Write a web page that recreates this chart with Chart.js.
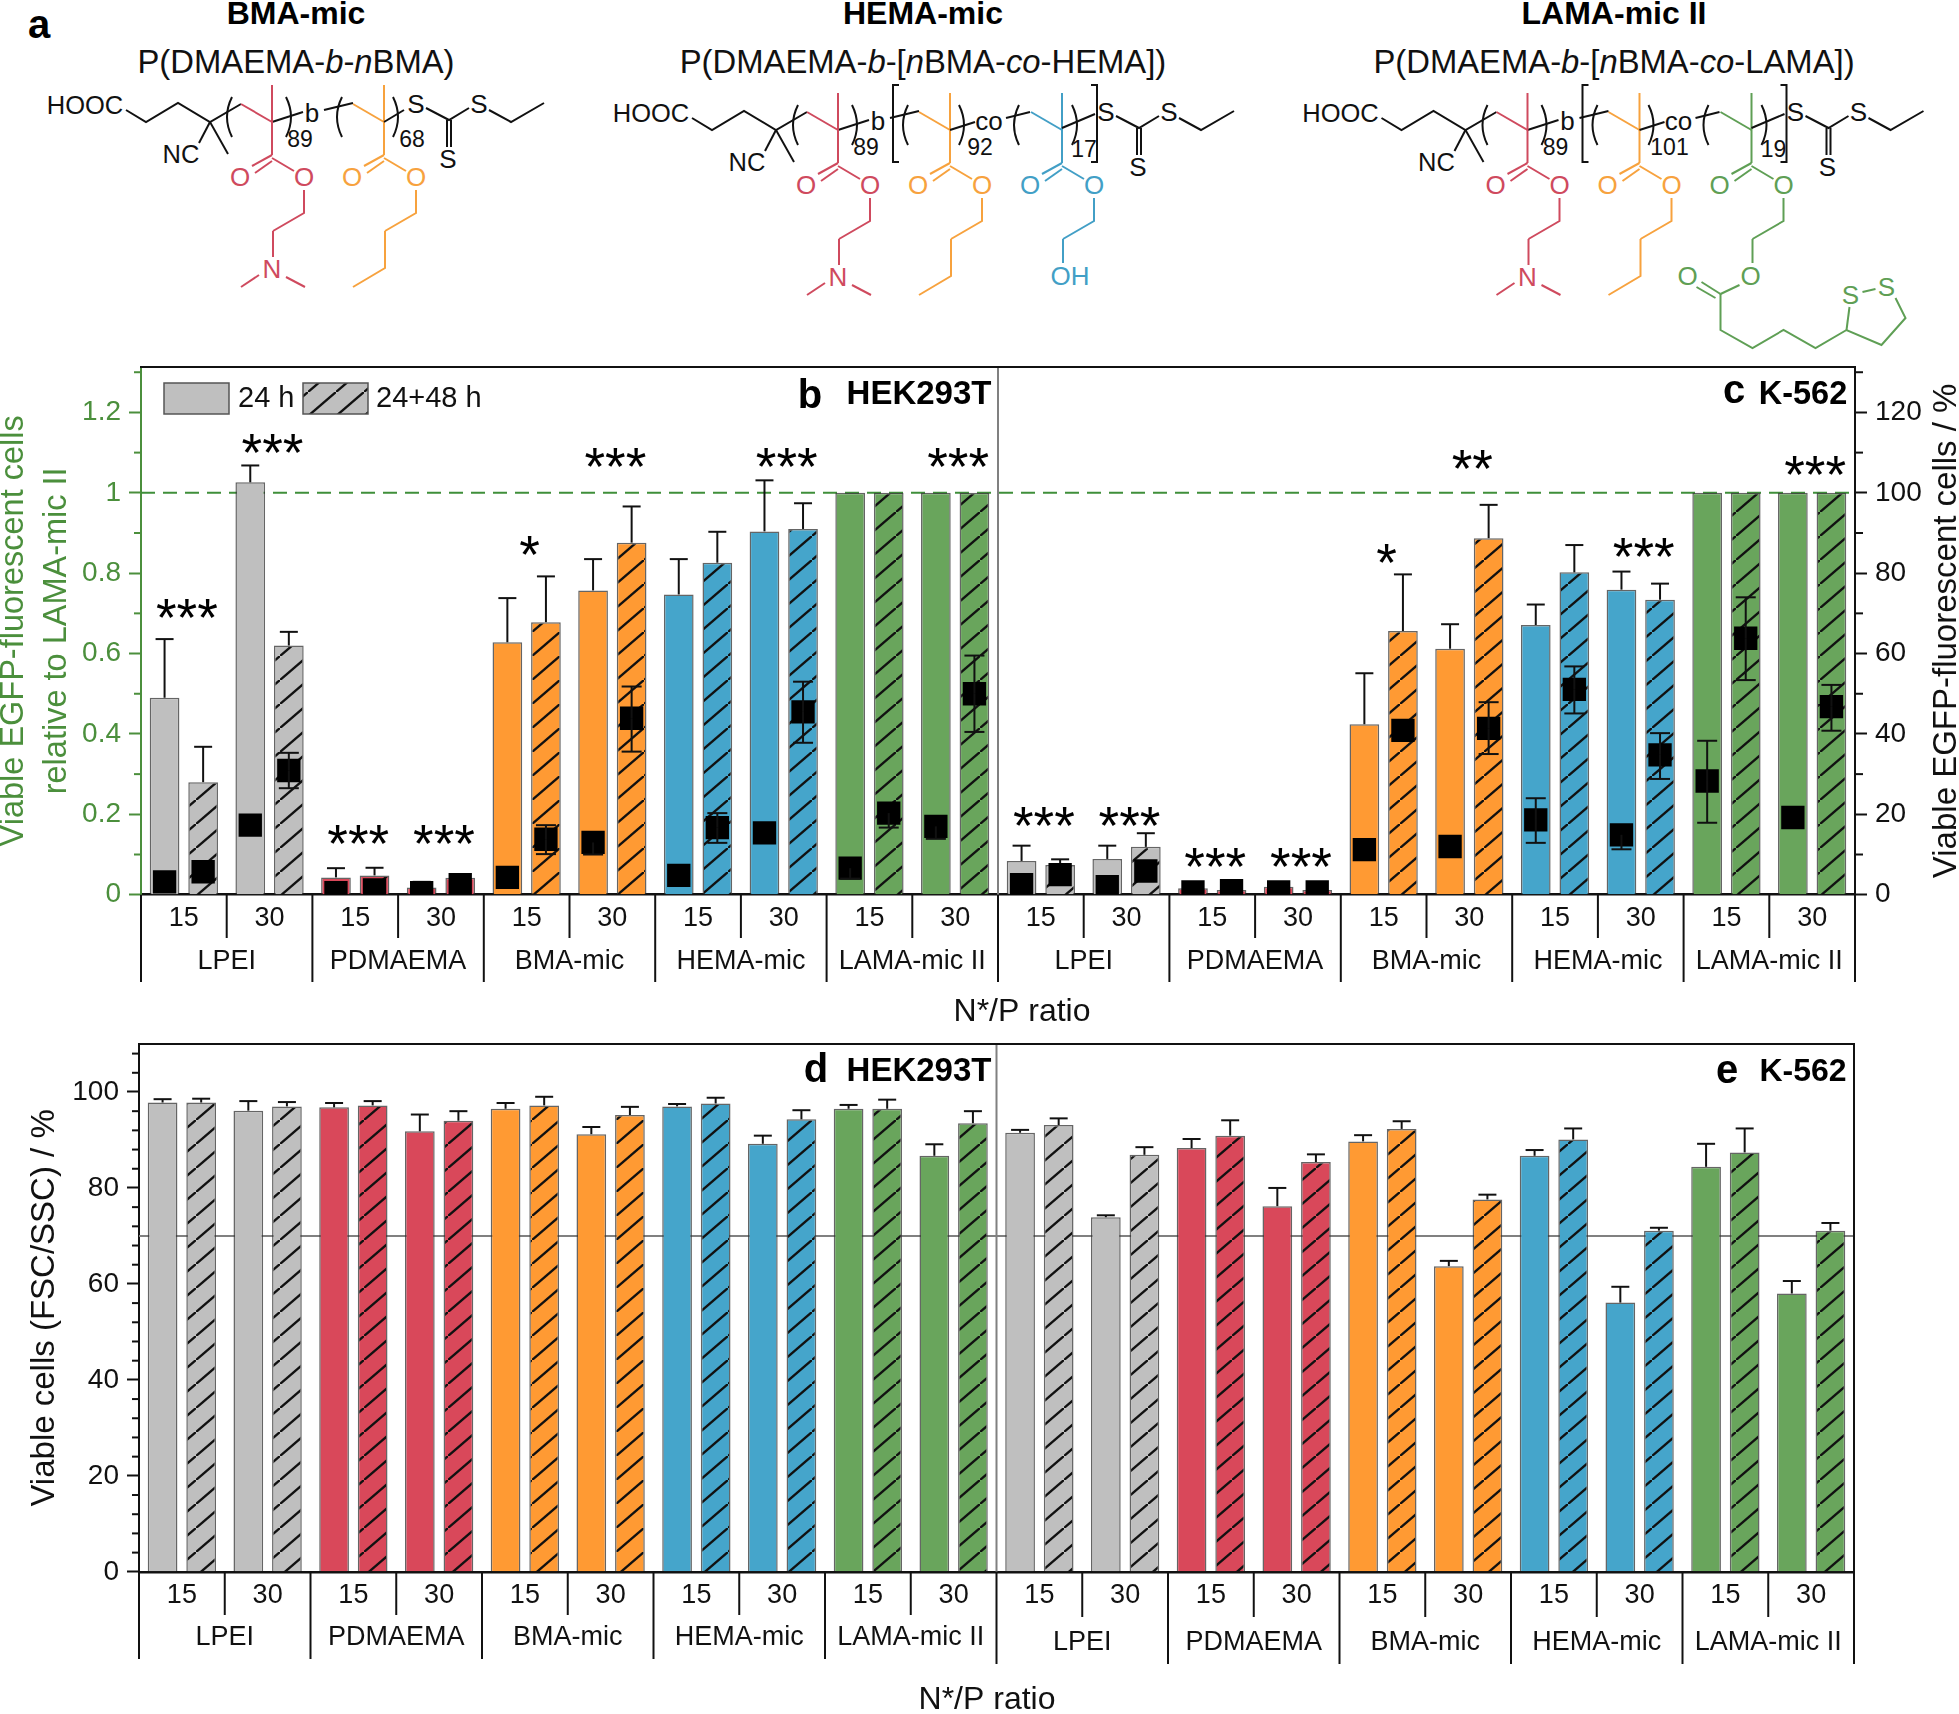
<!DOCTYPE html>
<html>
<head>
<meta charset="utf-8">
<title>Viable EGFP-fluorescent cells</title>
<script src="https://cdn.jsdelivr.net/npm/chart.js@4"></script>
<style>
html, body { margin: 0; background: #fff; }
svg, canvas { position: absolute; left: 0; }
</style>
</head>
<body>
<svg id="structures" width="1959" height="365" style="top:0"></svg>
<canvas id="chart_transfection" width="1959" height="710" style="top:320px"></canvas>
<canvas id="chart_viability" width="1959" height="714" style="top:1000px"></canvas>
<script>
// one category per N*/P ratio, left half HEK293T, right half K-562
const ratioLabels = ['15','30','15','30','15','30','15','30','15','30','15','30','15','30','15','30','15','30','15','30'];
const groupLabels = ['LPEI','PDMAEMA','BMA-mic','HEMA-mic','LAMA-mic II','LPEI','PDMAEMA','BMA-mic','HEMA-mic','LAMA-mic II'];

// panels b + c, bars, relative to LAMA-mic II
const transf24 = [.49,1.026,.043,.018,.628,.757,.747,.904,1,1, .084,.089,.016,.02,.424,.612,.671,.759,1,1];
const transf48 = [.28,.62,.048,.042,.678,.876,.826,.91,1,1, .074,.119,.012,.012,.656,.887,.802,.734,1,1];
const transf24Err = [.636,1.068,.066,.032,.738,.835,.835,1.031,null,null, .122,.122,null,null,.551,.673,.722,.804,null,null];
const transf48Err = [.368,.654,.067,.05,.792,.966,.903,.974,null,null, .088,.153,null,null,.797,.97,.87,.774,null,null];

// panels b + c, black squares, right axis in %
const pct24 = [3.2,17.3,.5,.5,4.3,13,4.8,15.4,6.6,17, 2.5,2,.7,.7,11.2,12,18.6,14.9,28.3,19.2];
const pct48 = [5.7,30.9,1.2,2.5,13.8,43.9,16.7,45.5,20.3,50, 5,5.9,1,.7,40.9,41.4,51.1,34.8,63.8,46.8];
const pct24Low = [null,null,null,null,null,10,null,null,4,13.9, null,null,null,null,null,null,12.9,11.3,17.9,null];
const pct24High = [null,null,null,null,null,null,null,null,null,null, null,null,null,null,null,null,24,null,38.3,null];
const pct48Low = [null,26.5,null,null,10.1,35.6,12.9,37.8,16.7,40.5, null,null,null,null,null,35,45.1,28.8,53.4,40.8];
const pct48High = [null,35.3,null,null,17.3,51.8,20.3,53,null,59.5, null,null,null,null,null,47.9,56.8,40.2,74,52.2];

// panels d + e
const viab24 = [97.8,96.1,96.8,91.8,96.5,91.2,97,89.2,96.5,86.7, 91.5,73.9,88.3,76.2,89.7,63.7,86.7,56.1,84.4,58];
const viab48 = [97.8,97,97.2,94,97.2,95.2,97.6,94.3,96.5,93.5, 93.1,86.9,90.9,85.4,92.3,77.6,90.1,71.1,87.4,71.1];
const viab24Err = [98.5,98.1,97.7,95.3,97.7,92.7,97.5,90.9,97.3,89.1, 92.1,74.3,90.2,80,91,64.8,87.9,59.4,89.2,60.6];
const viab48Err = [98.6,97.9,98.1,96,99,96.9,98.8,96.2,98.4,96, 94.5,88.5,94.1,87,93.9,78.6,92.4,71.7,92.4,72.7];

// significance marks: category, height on the left axis
const starCats = [0,1,2,3,4,5,7,9,10,11,12,13,14,15,17,19];
const starVals = [.703,1.113,.14,.14,.86,1.08,1.08,1.08,.187,.187,.084,.084,.84,1.073,.855,1.06];
const starMarks = ['***','***','***','***','*','***','***','***','***','***','***','***','*','**','***','***'];

const FONT = '"Liberation Sans", Arial, sans-serif';
const GREEN_TXT = '#4b8f3c';
const colGrey = '#bfbfbf', colRed = '#d9485a', colOrange = '#ff9a33', colBlue = '#45a5cb', colGreen = '#69a55c';
const groupColors = [colGrey, colRed, colOrange, colBlue, colGreen];
const catColor = i => groupColors[Math.floor(i / 2) % 5];

function hatch(color) {
    let tile = document.createElement('canvas');
    tile.width = 28;
    tile.height = 24;
    let c = tile.getContext('2d');
    c.fillStyle = color;
    c.fillRect(0, 0, 28, 24);
    c.strokeStyle = '#111';
    c.lineWidth = 2.4;
    c.beginPath();
    c.moveTo(-28, 48); c.lineTo(56, -24);
    c.stroke();
    return c.createPattern(tile, 'repeat');
}

function drawText(ctx, txt, x, y, font, color, rot, align) {
    ctx.save();
    ctx.translate(x, y);
    if (rot) ctx.rotate(rot);
    ctx.font = font;
    ctx.fillStyle = color || '#111';
    ctx.textAlign = align || 'center';
    ctx.textBaseline = 'middle';
    ctx.fillText(txt, 0, 0);
    ctx.restore();
}

function vline(ctx, x, y1, y2, color, w) {
    ctx.strokeStyle = color;
    ctx.lineWidth = w;
    ctx.beginPath();
    ctx.moveTo(x, y1);
    ctx.lineTo(x, y2);
    ctx.stroke();
}

function hline(ctx, x1, x2, y, color, w) {
    ctx.strokeStyle = color;
    ctx.lineWidth = w;
    ctx.beginPath();
    ctx.moveTo(x1, y);
    ctx.lineTo(x2, y);
    ctx.stroke();
}

function whisker(ctx, x, yScale, from, to, cap) {
    let y1 = yScale.getPixelForValue(from), y2 = yScale.getPixelForValue(to);
    vline(ctx, x, y1, y2, '#111', 2);
    hline(ctx, x - cap, x + cap, y2, '#111', 2);
}

function minorTicks(ctx, scale, step, every, x0, dir, len, color) {
    let n = Math.floor(scale.max / step + 1e-6);
    for (let i = 1; i <= n; i++) {
        if (i % every === 0) continue;
        let y = scale.getPixelForValue(i * step);
        hline(ctx, x0, x0 + dir * len, y, color, 2);
    }
}

// frame, two level x axis, whiskers and the panel texts. cfg positions are page pixels
function decoPlugin(cfg) {
    const T = cfg.top;
    return {
        id: 'deco',
        beforeDatasetsDraw(chart) {
            let ctx = chart.ctx, a = chart.chartArea, x = chart.scales.x, y = chart.scales.y;
            ctx.save();
            let mid = (x.getPixelForTick(9) + x.getPixelForTick(10)) / 2;
            if (cfg.refDashed) {
                ctx.setLineDash([14, 8]);
                hline(ctx, a.left, a.right, y.getPixelForValue(cfg.refValue), '#3f8f3a', 2);
                ctx.setLineDash([]);
            } else {
                hline(ctx, a.left, a.right, y.getPixelForValue(cfg.refValue), '#808080', 2);
            }
            vline(ctx, mid, a.top, a.bottom, '#808080', 2);
            [0, 1].forEach(di => {
                let meta = chart.getDatasetMeta(di), ds = chart.data.datasets[di];
                ds.errTop.forEach((e, i) => {
                    if (e === null) return;
                    whisker(ctx, meta.data[i].x, y, ds.data[i], e, 9);
                });
            });
            ctx.restore();
        },
        afterDatasetsDraw(chart) {
            let ctx = chart.ctx;
            ctx.save();
            if (chart.scales.yR) {
                [2, 3].forEach(di => {
                    let meta = chart.getDatasetMeta(di), ds = chart.data.datasets[di];
                    ds.data.forEach((p, i) => {
                        if (ds.errLow[i] !== null) whisker(ctx, meta.data[i].x, chart.scales.yR, p.y, ds.errLow[i], 10);
                        if (ds.errHigh[i] !== null) whisker(ctx, meta.data[i].x, chart.scales.yR, p.y, ds.errHigh[i], 10);
                    });
                });
            }
            ctx.restore();
        },
        afterDraw(chart) {
            let ctx = chart.ctx, a = chart.chartArea, x = chart.scales.x, y = chart.scales.y;
            ctx.save();
            hline(ctx, a.left - 1, a.right + 1, a.top, '#111', 2);
            if (!chart.scales.yR) vline(ctx, a.right, a.top, a.bottom, '#111', 2);
            minorTicks(ctx, y, cfg.minorStep, cfg.minorEvery, a.left, -1, 7, cfg.leftColor);
            if (chart.scales.yR) minorTicks(ctx, chart.scales.yR, 10, 2, a.right, 1, 8, '#111');

            // separators below the axis
            let half = (x.getPixelForTick(1) - x.getPixelForTick(0)) / 2;
            for (let i = 0; i <= 20; i++) {
                let sx = i < 20 ? x.getPixelForTick(i) - half : x.getPixelForTick(19) + half;
                let p = i < 10 ? 0 : 1;
                vline(ctx, sx, a.bottom, (i % 2 === 0 ? cfg.longSep[p] : cfg.shortSep[p]) - T, '#111', 2);
            }
            groupLabels.forEach((g, k) => {
                let gx = (x.getPixelForTick(k * 2) + x.getPixelForTick(k * 2 + 1)) / 2;
                drawText(ctx, g, gx, cfg.groupY[k < 5 ? 0 : 1] - T, '27px ' + FONT, '#111');
            });

            drawText(ctx, 'N*/P ratio', cfg.xTitle[0], cfg.xTitle[1] - T, '32px ' + FONT, '#111');
            cfg.texts.forEach(t => drawText(ctx, t[0], t[1], t[2] - T, 'bold ' + t[3] + 'px ' + FONT, '#000'));
            cfg.yTitles.forEach(t => drawText(ctx, t[0], t[1], (a.top + a.bottom) / 2, t[3] + 'px ' + FONT, t[4], -Math.PI / 2));

            if (cfg.stars) {
                starCats.forEach((c, i) => {
                    ctx.font = '53px ' + FONT;
                    ctx.fillStyle = '#000';
                    ctx.textAlign = 'center';
                    ctx.textBaseline = 'alphabetic';
                    ctx.fillText(starMarks[i], x.getPixelForTick(c) + 3, y.getPixelForValue(starVals[i]) + 24);
                });
                // legend
                ctx.lineWidth = 1.5;
                ctx.strokeStyle = '#555';
                ctx.fillStyle = colGrey;
                ctx.fillRect(164, 383 - T, 65, 31);
                ctx.strokeRect(164, 383 - T, 65, 31);
                drawText(ctx, '24 h', 238, 399 - T, '29px ' + FONT, '#111', 0, 'left');
                ctx.fillStyle = hatch(colGrey);
                ctx.fillRect(303, 383 - T, 65, 31);
                ctx.strokeRect(303, 383 - T, 65, 31);
                drawText(ctx, '24+48 h', 376, 399 - T, '29px ' + FONT, '#111', 0, 'left');
            }
            ctx.restore();
        }
    };
}

function barSet(label, data, err, hatched) {
    return {
        type: 'bar',
        label: label,
        data: data,
        errTop: err,
        order: 1,
        backgroundColor: data.map((v, i) => hatched ? hatch(catColor(i)) : catColor(i)),
        borderColor: 'rgba(50,50,50,.75)',
        borderWidth: 1.5,
        categoryPercentage: 0.9,
        barPercentage: 0.77
    };
}

// squares sit on the bar centres: fractional category positions, left unparsed
function squareSet(label, values, low, high, shift) {
    return {
        type: 'scatter',
        label: label,
        data: values.map((v, i) => ({ x: i + shift, y: v })),
        parsing: false,
        errLow: low,
        errHigh: high,
        yAxisID: 'yR',
        order: 0,
        clip: 0,
        pointStyle: 'rect',
        pointRadius: 16.5,
        pointBorderWidth: 0,
        backgroundColor: '#000'
    };
}

function yAxis(max, step, width, color, size, fmt) {
    return {
        min: 0,
        max: max,
        afterFit: s => { s.width = width; },
        border: { color: color, width: 2 },
        grid: { drawOnChartArea: false, tickLength: 12, tickWidth: 2, tickColor: color },
        ticks: { stepSize: step, includeBounds: false, color: color, padding: 8, font: { family: FONT, size: size }, callback: fmt }
    };
}

function xAxis(height) {
    return {
        type: 'category',
        afterFit: s => { s.height = height; },
        border: { color: '#111', width: 2.5 },
        grid: { display: false },
        ticks: { autoSkip: false, maxRotation: 0, padding: 0, color: '#111', font: { family: FONT, size: 27 } }
    };
}

new Chart(document.getElementById('chart_transfection'), {
    type: 'bar',
    data: {
        labels: ratioLabels,
        datasets: [
            barSet('24 h', transf24, transf24Err, false),
            barSet('24+48 h', transf48, transf48Err, true),
            squareSet('24 h %', pct24, pct24Low, pct24High, -0.225),
            squareSet('24+48 h %', pct48, pct48Low, pct48High, 0.225)
        ]
    },
    options: {
        responsive: false,
        animation: false,
        layout: { padding: { top: 47, left: 0, right: 0, bottom: 0 } },
        plugins: { legend: { display: false }, tooltip: { enabled: false } },
        scales: {
            x: xAxis(135.3),
            y: yAxis(1.313, 0.2, 141, GREEN_TXT, 28, v => String(+v.toFixed(1))),
            yR: Object.assign(yAxis(131.3, 20, 104, '#111', 28), { position: 'right' })
        }
    },
    plugins: [decoPlugin({
        top: 320, refValue: 1, refDashed: true, minorStep: 0.1, minorEvery: 2, leftColor: GREEN_TXT, stars: true,
        shortSep: [938, 938], longSep: [982, 982], groupY: [962, 962], xTitle: [1022, 1012],
        texts: [['b', 810, 397, 40], ['HEK293T', 919, 395, 33], ['c', 1734, 392, 40], ['K-562', 1803, 395, 32.5]],
        yTitles: [
            ['Viable EGFP-fluorescent cells', 14, 0, 32.5, GREEN_TXT],
            ['relative to LAMA-mic II', 57, 0, 32.5, GREEN_TXT],
            ['Viable EGFP-fluorescent cells / %', 1947, 0, 33, '#111']
        ]
    })]
});

new Chart(document.getElementById('chart_viability'), {
    type: 'bar',
    data: {
        labels: ratioLabels,
        datasets: [
            barSet('24 h', viab24, viab24Err, false),
            barSet('24+48 h', viab48, viab48Err, true)
        ]
    },
    options: {
        responsive: false,
        animation: false,
        layout: { padding: { top: 44, left: 0, right: 105, bottom: 0 } },
        plugins: { legend: { display: false }, tooltip: { enabled: false } },
        scales: {
            x: xAxis(142.2),
            y: yAxis(110, 20, 139, '#111', 28)
        }
    },
    plugins: [decoPlugin({
        top: 1000, refValue: 70, refDashed: false, minorStep: 4, minorEvery: 5, leftColor: '#111', stars: false,
        shortSep: [1615, 1617], longSep: [1659, 1664], groupY: [1638, 1643], xTitle: [987, 1700],
        texts: [['d', 816, 1071, 40], ['HEK293T', 919, 1072, 33], ['e', 1727, 1072, 40], ['K-562', 1803, 1072, 32]],
        yTitles: [['Viable cells (FSC/SSC) / %', 45, 0, 33, '#111']]
    })]
});

// panel a, the three block copolymer structures
const colUnitRed = '#cf4a5e', colUnitOrange = '#f7a23e', colUnitBlue = '#429fc6', colUnitGreen = '#5f9f55';
let svgParts = [];

function pl(color, pts, ox, oy) {
    let s = [];
    for (let i = 0; i < pts.length; i += 2) s.push((pts[i] + ox) + ',' + (pts[i + 1] + oy));
    svgParts.push('<polyline fill="none" stroke="' + color + '" stroke-width="2" points="' + s.join(' ') + '"/>');
}
function lab(txt, x, y, color, size) {
    svgParts.push('<text x="' + x + '" y="' + y + '" fill="' + color + '" font-size="' + size + '" font-family=\'' + FONT + '\' text-anchor="middle" dominant-baseline="central">' + txt + '</text>');
}
function paren(x, dir, ox, oy) {
    let x0 = x + ox, y0 = 97 + oy, y1 = 137 + oy;
    svgParts.push('<path fill="none" stroke="#111" stroke-width="2" d="M' + (x0 + 4 * dir) + ' ' + y0 + ' Q' + (x0 - 6 * dir) + ' ' + (y0 + 20) + ' ' + (x0 + 4 * dir) + ' ' + y1 + '"/>');
}
function unit(cx, color, kind, ox, oy) {
    pl(color, [cx - 31, 104, cx, 122], ox, oy);
    pl(color, [cx, 85, cx, 155], ox, oy);
    pl(color, [cx, 155, cx - 20, 166], ox, oy);
    pl(color, [cx - 17, 173, cx, 161], ox, oy);
    pl(color, [cx, 158, cx + 22, 171], ox, oy);
    lab('O', cx - 32 + ox, 177 + oy, color, 26);
    lab('O', cx + 32 + ox, 177 + oy, color, 26);
    pl(color, [cx + 32, 190, cx + 32, 213, cx + 1, 231], ox, oy);
    if (kind === 'amine') {
        pl(color, [cx + 1, 231, cx + 1, 257], ox, oy);
        lab('N', cx + ox, 269 + oy, color, 26);
        pl(color, [cx - 13, 275, cx - 31, 287], ox, oy);
        pl(color, [cx + 14, 277, cx + 33, 287], ox, oy);
    } else if (kind === 'butyl') {
        pl(color, [cx + 1, 231, cx + 1, 268, cx - 31, 287], ox, oy);
    } else if (kind === 'oh') {
        pl(color, [cx + 1, 231, cx + 1, 255], ox, oy);
        lab('OH', cx + 8 + ox, 268 + oy, color, 26);
    } else {
        pl(color, [cx + 1, 231, cx + 1, 255], ox, oy);
        lab('O', 495 + ox, 268 + oy, color, 26);
        pl(color, [484, 277, 465, 286], ox, oy);
        lab('O', 432 + ox, 268 + oy, color, 26);
        pl(color, [465, 286, 446, 274], ox, oy);
        pl(color, [460, 290, 441, 279], ox, oy);
        pl(color, [465, 286, 465, 322, 497, 340, 528, 322, 560, 340, 591, 322, 626, 337, 650, 310, 640, 290], ox, oy);
        lab('S', 631 + ox, 279 + oy, color, 26);
        lab('S', 595 + ox, 287 + oy, color, 26);
        pl(color, [607, 284, 620, 281], ox, oy);
        pl(color, [594, 299, 591, 322], ox, oy);
    }
}
function head(ox, oy) {
    lab('HOOC', 85 + ox, 105 + oy, '#111', 25.5);
    pl('#111', [126, 110, 146, 122, 178, 103, 210, 122, 241, 104], ox, oy);
    pl('#111', [210, 122, 228, 154], ox, oy);
    pl('#111', [210, 122, 199, 143], ox, oy);
    lab('NC', 181 + ox, 154 + oy, '#111', 25.5);
    paren(228, 1, ox, oy);
    pl('#111', [272, 122, 303, 112], ox, oy);
    paren(290, -1, ox, oy);
    lab('89', 300 + ox, 139 + oy, '#111', 23);
    lab('b', 312 + ox, 113 + oy, '#111', 26);
    pl('#111', [324, 110, 353, 103], ox, oy);
    paren(338, 1, ox, oy);
    paren(397, -1, ox, oy);
}
function tail(shift, ox, oy) {
    lab('S', 416 + shift + ox, 104 + oy, '#111', 26);
    pl('#111', [426 + shift, 108, 449 + shift, 120, 469 + shift, 108], ox, oy);
    lab('S', 479 + shift + ox, 104 + oy, '#111', 26);
    pl('#111', [489 + shift, 110, 511 + shift, 122, 544 + shift, 103], ox, oy);
    pl('#111', [447 + shift, 120, 447 + shift, 147], ox, oy);
    pl('#111', [451 + shift, 120, 451 + shift, 147], ox, oy);
    lab('S', 448 + shift + ox, 159 + oy, '#111', 26);
}
function titles(name, parts, cx) {
    svgParts.push('<text x="' + cx + '" y="13" font-size="32" font-weight="bold" fill="#000" font-family=\'' + FONT + '\' text-anchor="middle" dominant-baseline="central">' + name + '</text>');
    let spans = parts.map(p => '<tspan' + (p[1] ? ' font-style="italic"' : '') + '>' + p[0] + '</tspan>').join('');
    svgParts.push('<text x="' + cx + '" y="61" font-size="32.8" fill="#111" font-family=\'' + FONT + '\' text-anchor="middle" dominant-baseline="central">' + spans + '</text>');
}
function copolymer(thirdColor, kind, n2, n3, ox, oy) {
    pl('#111', [384, 122, 409, 114], ox, oy);
    lab('co', 423 + ox, 113 + oy, '#111', 26);
    pl('#111', [440, 110, 464, 104], ox, oy);
    paren(449, 1, ox, oy);
    unit(496, thirdColor, kind, ox, oy);
    pl('#111', [496, 120, 529, 106], ox, oy);
    paren(510, -1, ox, oy);
    pl('#111', [333, 77, 327, 77, 327, 154, 333, 154], ox, oy);
    pl('#111', [525, 77, 531, 77, 531, 154, 525, 154], ox, oy);
    lab(n2, 414 + ox, 139 + oy, '#111', 23);
    lab(n3, 518 + ox, 141 + oy, '#111', 23);
}

lab('a', 39, 24, '#000', 40);
svgParts[svgParts.length - 1] = svgParts[svgParts.length - 1].replace('<text ', '<text font-weight="bold" ');

titles('BMA-mic', [['P(DMAEMA-', 0], ['b', 1], ['-', 0], ['n', 1], ['BMA)', 0]], 296);
head(0, 0);
unit(272, colUnitRed, 'amine', 0, 0);
unit(384, colUnitOrange, 'butyl', 0, 0);
pl('#111', [384, 122, 404, 110], 0, 0);
lab('68', 412, 139, '#111', 23);
tail(0, 0, 0);

titles('HEMA-mic', [['P(DMAEMA-', 0], ['b', 1], ['-[', 0], ['n', 1], ['BMA-', 0], ['co', 1], ['-HEMA])', 0]], 923);
head(566, 8);
unit(272, colUnitRed, 'amine', 566, 8);
unit(384, colUnitOrange, 'butyl', 566, 8);
copolymer(colUnitBlue, 'oh', '92', '17', 566, 8);
tail(124, 566, 8);

titles('LAMA-mic II', [['P(DMAEMA-', 0], ['b', 1], ['-[', 0], ['n', 1], ['BMA-', 0], ['co', 1], ['-LAMA])', 0]], 1614);
head(1255.5, 8);
unit(272, colUnitRed, 'amine', 1255.5, 8);
unit(384, colUnitOrange, 'butyl', 1255.5, 8);
copolymer(colUnitGreen, 'lipoic', '101', '19', 1255.5, 8);
tail(124, 1255.5, 8);

document.getElementById('structures').innerHTML = svgParts.join('');
</script>
</body>
</html>
